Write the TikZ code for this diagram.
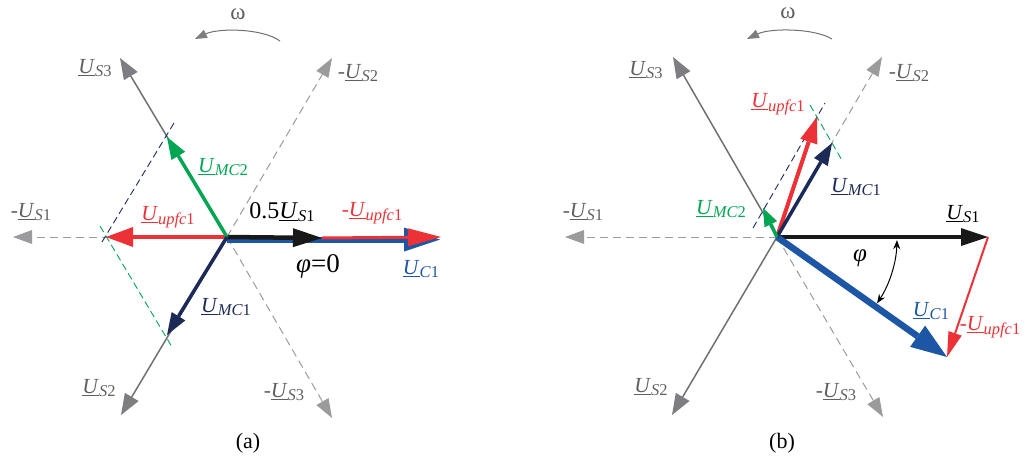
\documentclass[tikz,border=0pt]{standalone}
\usepackage{fontspec}
\setmainfont{Liberation Serif}
\usetikzlibrary{arrows.meta}
\definecolor{gline}{RGB}{112,112,115}
\definecolor{ghead}{RGB}{125,125,130}
\definecolor{gdash}{RGB}{155,155,158}
\definecolor{glabel}{RGB}{95,95,98}
\definecolor{cred}{RGB}{237,50,55}
\definecolor{cgreen}{RGB}{0,166,81}
\definecolor{cnavy}{RGB}{28,42,88}
\definecolor{cblue}{RGB}{30,86,166}
\newcommand{\Ulab}[2]{\underline{\textit{U}}\raisebox{-3.5pt}{\fontsize{16.5}{16.5}\selectfont\textit{#1}#2}}
\begin{document}
\begin{tikzpicture}[x=1pt,y=-1pt,
  font=\fontsize{21.5}{21.5}\selectfont,
  vs/.style={draw=gline, line width=1.5pt, -{Triangle[length=21pt,width=16pt,line width=0pt,color=ghead]}},
  vd/.style={draw=gdash, line width=1pt, dash pattern=on 8pt off 5pt, -{Triangle[length=19pt,width=14pt,line width=0pt,color=gdash]}},
  cons/.style={line width=0.9pt, dash pattern=on 7pt off 4pt},
  lab/.style={inner sep=0pt, anchor=center},
  om/.style={draw=gline, line width=1pt, -{Triangle[length=12pt,width=9pt,line width=0pt,color=ghead]}},
  big/.style={font=\fontsize{24}{24}\selectfont}
]
\useasboundingbox (0,0) rectangle (1024,456);
% ---------------- (a) ----------------
\coordinate (Oa) at (227,237);
\coordinate (Oa2) at (227,239.5);
\coordinate (S3a) at (120,58);
\coordinate (S2a) at (121,415);
\coordinate (mS2a) at (332,58);
\coordinate (mS3a) at (332,418);
\coordinate (mS1a) at (13,237);
\coordinate (Ca) at (440,239.5);
\coordinate (Ha) at (322,238);
\coordinate (Ra) at (441,237);
\coordinate (Pa) at (106,237);
\coordinate (G2a) at (167,137);
\coordinate (N1a) at (167,335);
\coordinate (nda1) at (102,242);
\coordinate (nda2) at (174,123);
\coordinate (gda1) at (100,226);
\coordinate (gda2) at (172,347);
\coordinate (wa1) at (280,41);
\coordinate (wa2) at (195,39);

\draw[vd] (Oa) -- (mS2a);
\draw[vd] (Oa) -- (mS3a);
\draw[vd] (Oa) -- (mS1a);
\draw[vs] (Oa) -- (S3a);
\draw[vs] (Oa) -- (S2a);
\draw[cons, draw=cnavy] (nda1) -- (nda2);
\draw[cons, draw=cgreen] (gda1) -- (gda2);
\draw[draw=cblue, line width=6pt, -{Triangle[length=36pt,width=24pt,line width=0pt]}] (Oa2) -- (Ca);
\draw[draw=cred, line width=3pt, -{Triangle[length=33pt,width=18pt,line width=0pt]}] (Ha) -- (Ra);
\draw[draw=black!90, line width=4.5pt, -{Triangle[length=29pt,width=19pt,line width=0pt]}] (Oa) -- (Ha);
\draw[draw=cred, line width=4pt, -{Triangle[length=27pt,width=20pt,line width=0pt]}] (Oa) -- (Pa);
\draw[draw=cgreen, line width=3.5pt, -{Triangle[length=22pt,width=16pt,line width=0pt]}] (Oa) -- (G2a);
\draw[draw=cnavy, line width=3.5pt, -{Triangle[length=22pt,width=16pt,line width=0pt]}] (Oa) -- (N1a);
\draw[om] (wa1) .. controls (262,28) and (218,28) .. (wa2);

\node[lab, text=glabel] (lS3a) at (95,68) {\Ulab{S}{3}};
\node[lab, text=glabel] (lmS2a) at (358,73) {-\Ulab{S}{2}};
\node[lab, text=glabel] (lmS1a) at (31,212) {-\Ulab{S}{1}};
\node[lab, text=glabel] (lS2a) at (99,388) {\Ulab{S}{2}};
\node[lab, text=glabel] (lmS3a) at (284,392) {-\Ulab{S}{3}};
\node[lab, text=cgreen] (lG2a) at (223,167) {\Ulab{MC}{2}};
\node[lab, text=cred] (lPa) at (168,217) {\Ulab{upfc}{1}};
\node[lab, big] (lHa) at (282,212) {0.5\Ulab{S}{1}};
\node[lab, text=cred] (lRa) at (372,213) {-\Ulab{upfc}{1}};
\node[lab, font=\fontsize{27}{27}\selectfont] (lphia) at (318,266) {\textit{φ}=0};
\node[lab, text=cblue] (lCa) at (421,269) {\Ulab{C}{1}};
\node[lab, text=cnavy] (lN1a) at (226,307) {\Ulab{MC}{1}};
\node[lab, text=glabel, font=\fontsize{23}{23}\selectfont] (wla) at (238,14) {ω};
\node[lab, font=\fontsize{22}{22}\selectfont] (capa) at (248,443) {(a)};

% ---------------- (b) ----------------
\coordinate (Ob) at (777,237);
\coordinate (S1b) at (988,237);
\coordinate (mS1b) at (565,237);
\coordinate (S3b) at (673,57);
\coordinate (mS2b) at (882,57);
\coordinate (S2b) at (672,415);
\coordinate (mS3b) at (883,417);
\coordinate (Cb) at (947,357);
\coordinate (Pb) at (817,117);
\coordinate (N1b) at (832,143);
\coordinate (G2b) at (763,208);
\coordinate (ndb1) at (753,228);
\coordinate (ndb2) at (825,103);
\coordinate (gdb1) at (810,105);
\coordinate (gdb2) at (843,162);
\coordinate (wb1) at (832,39);
\coordinate (wb2) at (747,39);

\draw[vd] (Ob) -- (mS2b);
\draw[vd] (Ob) -- (mS3b);
\draw[vd] (Ob) -- (mS1b);
\draw[vs] (Ob) -- (S3b);
\draw[vs] (Ob) -- (S2b);
\draw[cons, draw=cnavy] (ndb1) -- (ndb2);
\draw[cons, draw=cgreen] (gdb1) -- (gdb2);
\draw[draw=black!90, line width=4pt, -{Triangle[length=27pt,width=18pt,line width=0pt]}] (Ob) -- (S1b);
\draw[draw=cblue, line width=6.5pt, -{Triangle[length=36pt,width=26pt,line width=0pt]}] (Ob) -- (Cb);
\draw[draw=cred, line width=2pt, -{Triangle[length=25pt,width=14pt,line width=0pt]}] (S1b) -- (Cb);
\draw[draw=cred, line width=4pt, -{Triangle[length=26pt,width=18pt,line width=0pt]}] (Ob) -- (Pb);
\draw[draw=cnavy, line width=3.5pt, -{Triangle[length=22pt,width=16pt,line width=0pt]}] (Ob) -- (N1b);
\draw[draw=cgreen, line width=3.5pt, -{Triangle[length=18pt,width=14pt,line width=0pt]}] (Ob) -- (G2b);
\draw[black, line width=1pt, {Stealth[length=9pt,width=7pt]}-{Stealth[length=9pt,width=7pt]}]
  ([shift={(1.5:120)}]Ob) arc[start angle=1.5, end angle=33.5, radius=120];
\draw[om] (wb1) .. controls (814,28) and (770,28) .. (wb2);

\node[lab, text=glabel] (lS3b) at (646,70) {\Ulab{S}{3}};
\node[lab, text=glabel] (lmS2b) at (909,73) {-\Ulab{S}{2}};
\node[lab, text=glabel] (lmS1b) at (583,212) {-\Ulab{S}{1}};
\node[lab, text=glabel] (lS2b) at (651,387) {\Ulab{S}{2}};
\node[lab, text=glabel] (lmS3b) at (836,392) {-\Ulab{S}{3}};
\node[lab, text=cred] (lPb) at (778,104) {\Ulab{upfc}{1}};
\node[lab, text=cnavy] (lN1b) at (856,187) {\Ulab{MC}{1}};
\node[lab, text=cgreen] (lG2b) at (721,209) {\Ulab{MC}{2}};
\node[lab] (lS1b) at (963,214) {\Ulab{S}{1}};
\node[lab, text=cblue] (lCb) at (931,311) {\Ulab{C}{1}};
\node[lab, text=cred] (lRb) at (990,327) {-\Ulab{upfc}{1}};
\node[lab, font=\fontsize{25}{25}\selectfont] (lphib) at (860,258) {\textit{φ}};
\node[lab, text=glabel, font=\fontsize{23}{23}\selectfont] (wlb) at (788,13) {ω};
\node[lab, font=\fontsize{22}{22}\selectfont] (capb) at (782,443) {(b)};
\end{tikzpicture}
\end{document}
